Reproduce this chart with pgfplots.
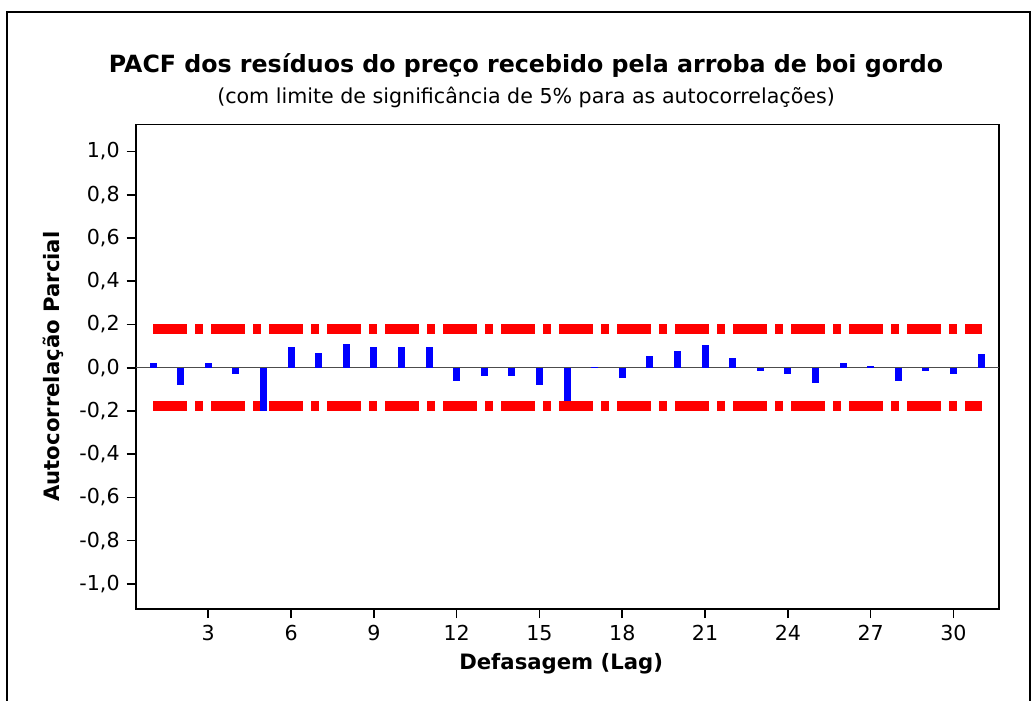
\documentclass[border=0pt]{standalone}
\usepackage{fontspec}
\setmainfont{DejaVu Sans}
\usepackage{pgfplots}
\pgfplotsset{compat=1.18}
\begin{document}
\begin{tikzpicture}
\useasboundingbox (0,0) rectangle (518pt,-350pt);
\draw[line width=0.9pt] (3.65pt,-351pt) -- (3.65pt,-6.15pt) -- (514.8pt,-6.15pt) -- (514.8pt,-351pt);
\node[font=\bfseries\fontsize{11.85}{13}\selectfont, anchor=base] at (263pt,-36.5pt) {PACF dos resíduos do preço recebido pela arroba de boi gordo};
\node[font=\fontsize{10.3}{12}\selectfont, anchor=base] at (263pt,-52pt) {(com limite de significância de 5\% para as autocorrelações)};
\begin{axis}[
  at={(67.85pt,-304.5pt)}, anchor=south west,
  scale only axis, width=431.5pt, height=242.35pt,
  xmin=0.37, xmax=31.64, ymin=-1.116, ymax=1.126,
  axis line style={line width=0.8pt},
  tick align=outside, tick style={black, line width=0.8pt}, major tick length=4.5pt,
  xtick pos=bottom, ytick pos=left,
  xtick={3,6,9,12,15,18,21,24,27,30},
  ytick={-1,-0.8,-0.6,-0.4,-0.2,0,0.2,0.4,0.6,0.8,1},
  yticklabels={{-1,0},{-0,8},{-0,6},{-0,4},{-0,2},{0,0},{0,2},{0,4},{0,6},{0,8},{1,0}},
  /pgf/number format/assume math mode=true,
  tick label style={font=\fontsize{10.3}{12}\selectfont},
  xlabel={Defasagem (Lag)},
  ylabel={Autocorrelação Parcial},
  every axis x label/.style={at={(axis description cs:0.493,-0.1258)}, anchor=base, font=\bfseries\fontsize{10.6}{12}\selectfont},
  every axis y label/.style={at={(axis description cs:-0.0957,0.5)}, rotate=90, anchor=center, font=\bfseries\fontsize{10.6}{12}\selectfont},
  clip=false,
]
\addplot[draw=black!70, line width=0.6pt, forget plot] coordinates {(0.37,0) (31.64,0)};
\addplot[red, line width=5pt, dash pattern=on 17pt off 4pt on 4pt off 4pt] coordinates {(1,0.178) (31.05,0.178)};
\addplot[red, line width=5pt, dash pattern=on 17pt off 4pt on 4pt off 4pt] coordinates {(1,-0.178) (31.05,-0.178)};
\addplot[ycomb, blue, line width=3.5pt, mark=none] coordinates {
(1,0.021) (2,-0.078) (3,0.021) (4,-0.028) (5,-0.2) (6,0.096) (7,0.07) (8,0.112)
(9,0.096) (10,0.096) (11,0.096) (12,-0.062) (13,-0.036) (14,-0.036) (15,-0.078)
(16,-0.155) (17,0.004) (18,-0.046) (19,0.054) (20,0.077) (21,0.105) (22,0.043)
(23,-0.013) (24,-0.028) (25,-0.07) (26,0.021) (27,0.01) (28,-0.062) (29,-0.013)
(30,-0.028) (31,0.062)
};
\end{axis}
\end{tikzpicture}
\end{document}
